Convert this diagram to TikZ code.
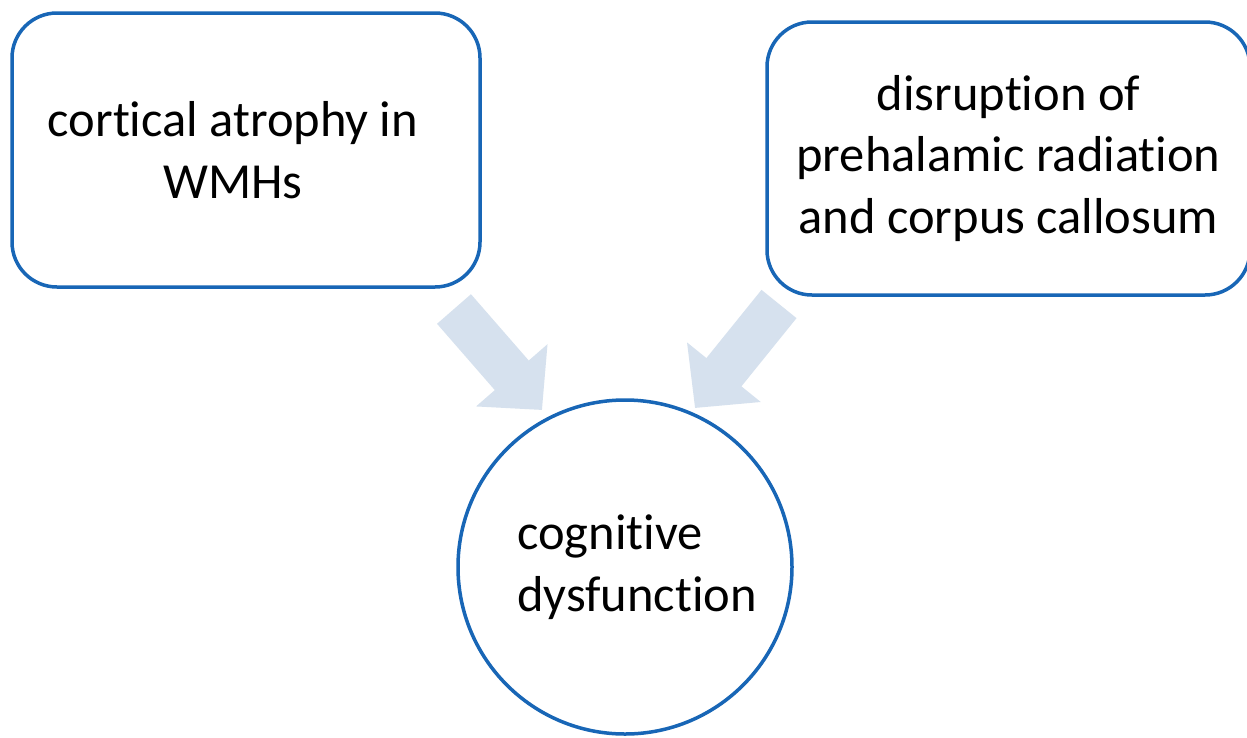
\documentclass[tikz,border=0pt]{standalone}
\usepackage{fontspec}
\setmainfont[Ligatures=NoCommon]{Carlito}
\usetikzlibrary{arrows.meta}
\definecolor{boxblue}{RGB}{24,102,182}
\definecolor{arrowgray}{RGB}{214,225,238}

\begin{document}
\begin{tikzpicture}[x=1pt,y=-1pt,
  txt/.style={font=\fontsize{50.5}{61.5}\selectfont, align=center},
  roundbox/.style={draw=boxblue, line width=3.5pt, rounded corners=45pt, txt},
  bigarrow/.style={draw=arrowgray, line width=45pt, -{Triangle[length=46pt,width=92pt]}, arrowgray}]
\useasboundingbox[fill=white] (0,0) rectangle (1247,737);
% boxes
\node[roundbox, minimum width=468pt, minimum height=274pt] (cort) at (246,150) {cortical atrophy in\hspace*{26pt}\\WMHs\hspace*{26pt}};
\node[roundbox, minimum width=483pt, minimum height=273pt] (disr) at (1008.5,158.5) {disruption of\\prehalamic radiation\\and corpus callosum};
% circle
\node[draw=boxblue, line width=3.5pt, circle, minimum size=334pt, txt, align=left] (cog) at (625,567) {\hspace*{24pt}cognitive\\\hspace*{24pt}dysfunction};
% arrows
\coordinate (ls) at (454,309);
\coordinate (le) at (542,410);
\coordinate (rs) at (779,304);
\coordinate (re) at (695,408);
\path[bigarrow] (ls) -- (le);
\path[bigarrow] (rs) -- (re);
\end{tikzpicture}
\end{document}
